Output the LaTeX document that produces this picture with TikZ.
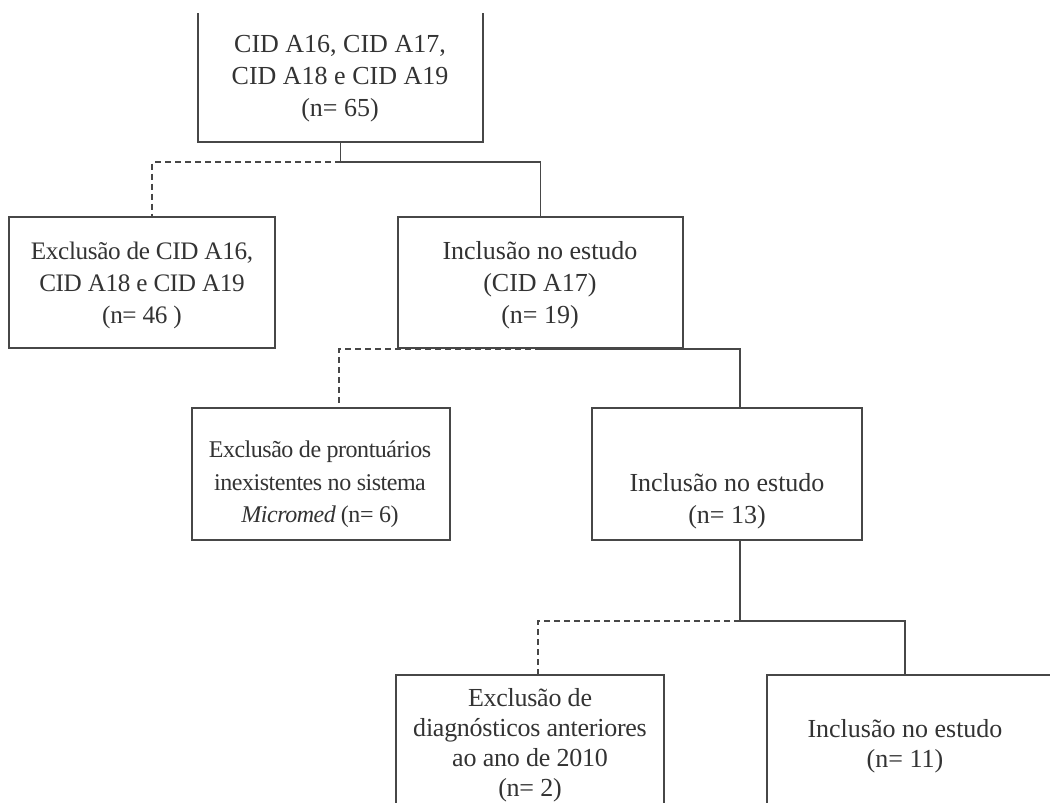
\documentclass[tikz,border=0pt]{standalone}
\usepackage{fontspec}
\setmainfont{Liberation Serif}
\usetikzlibrary{positioning}
\usetikzlibrary{calc}

\definecolor{linegray}{HTML}{474747}
\definecolor{textgray}{HTML}{333333}

\tikzset{
	box/.style={draw=linegray, line width=0.75pt, inner sep=0pt},
	boxtext/.style={text=textgray, align=center, inner sep=0pt, font=\fontsize{13}{16}\selectfont},
	tighttext/.style={boxtext, font={\fontsize{12}{#1}\selectfont\addfontfeatures{LetterSpace=-2}}},
	link/.style={draw=linegray, line width=0.75pt},
	excl/.style={link, dash pattern=on 3pt off 2pt},
}

\begin{document}
\begin{tikzpicture}[x=0.5pt, y=-0.5pt]
	\useasboundingbox (0,0) rectangle (1050,803);
	\fill[white] (0,0) rectangle (1050,803);
	\clip (0,13) rectangle (1050,803);

	% Level 1
	\begin{scope}
		\node[box, minimum width=142.5pt, minimum height=66pt] (total) at (340.5,76) {};
		\node[boxtext] (totaltxt) at (340,79) {CID A16, CID A17,\\CID A18 e CID A19\\(n= 65)};
	\end{scope}

	% Level 2
	\begin{scope}
		\node[box, minimum width=133pt, minimum height=65.5pt] (exclA) at (142,282.5) {};
		\node[boxtext, font={\fontsize{12.6}{16}\selectfont\addfontfeatures{LetterSpace=-1.5}}] (exclAtxt) at (142,285.5) {Exclusão de CID A16,\\CID A18 e CID A19\\(n= 46 )};

		\node[box, minimum width=142.5pt, minimum height=65.5pt] (inclA) at (540.5,282.5) {};
		\node[boxtext] (inclAtxt) at (540,285.5) {Inclusão no estudo\\(CID A17)\\(n= 19)};
	\end{scope}

	% Level 3
	\begin{scope}
		\node[box, minimum width=129pt, minimum height=66pt] (exclB) at (321,474) {};
		\node[tighttext=16.25] (exclBtxt) at (320,484.5) {Exclusão de prontuários\\inexistentes no sistema\\\textit{Micromed} (n= 6)};

		\node[box, minimum width=135pt, minimum height=66pt] (inclB) at (727,474) {};
		\node[boxtext] (inclBtxt) at (727,501.5) {Inclusão no estudo\\(n= 13)};
	\end{scope}

	% Level 4
	\begin{scope}
		\node[box, minimum width=134pt, minimum height=90pt] (exclC) at (530,765) {};
		\node[boxtext, font={\fontsize{13}{15}\selectfont\addfontfeatures{LetterSpace=-1}}] (exclCtxt) at (530,745.5) {Exclusão de\\diagnósticos anteriores\\ao ano de 2010\\(n= 2)};

		\node[box, minimum width=150pt, minimum height=90pt] (inclC) at (917,765) {};
		\node[boxtext, font=\fontsize{13}{15}\selectfont] (inclCtxt) at (905,746) {Inclusão no estudo\\(n= 11)};
	\end{scope}

	% Connectors
	\coordinate (splitA) at (0,162);
	\coordinate (splitC) at (0,621);
	\draw[link] (total.south) -- (total.south |- splitA) -| (inclA.north);
	\draw[excl] (total.south |- splitA) -| ([xshift=5pt]exclA.north);

	\draw[link] (inclA.south) -| ([xshift=6.5pt]inclB.north);
	\draw[excl] (inclA.south) -| ([xshift=9pt]exclB.north);

	\draw[link] ([xshift=6.5pt]inclB.south) -- ($(inclB.south |- splitC)+(13,0)$) -| ([xshift=-6pt]inclC.north);
	\draw[excl] ($(inclB.south |- splitC)+(13,0)$) -| ([xshift=4pt]exclC.north);
\end{tikzpicture}
\end{document}
